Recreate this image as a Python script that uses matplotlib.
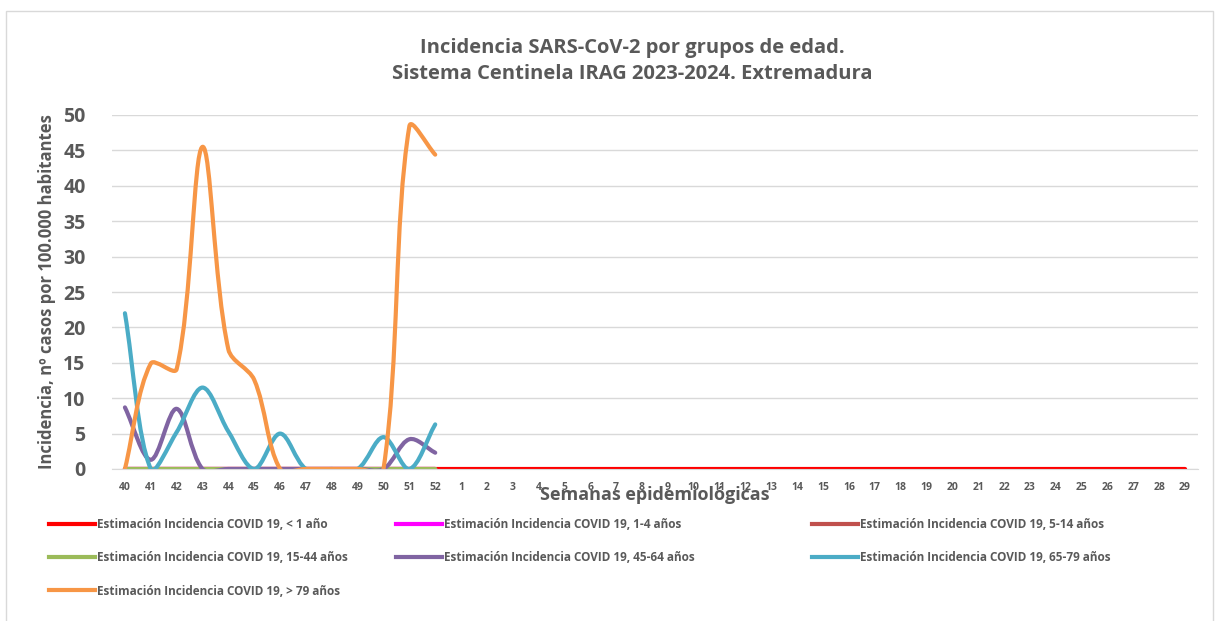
import numpy as np
import matplotlib.pyplot as plt
from matplotlib.path import Path
from matplotlib.patches import PathPatch, Rectangle
from matplotlib.lines import Line2D

plt.rcParams['font.family'] = ['Open Sans', 'DejaVu Sans']

# semanas epidemiologicas
semanas = [str(s) for s in list(range(40, 53)) + list(range(1, 30))]

# datos (incidencia por 100.000 hab.)
menor_1 = [0] * 42
de_1_4 = [0] * 13
de_5_14 = [0] * 13
de_15_44 = [0] * 13
de_45_64 = [8.7, 1.3, 8.5, 0, 0, 0, 0, 0, 0, 0, 0, 4.2, 2.3]
de_65_79 = [22.0, 0, 5.2, 11.5, 5.3, 0, 5.0, 0, 0, 0, 4.5, 0, 6.3]
mayor_79 = [0, 14.9, 14.1, 45.5, 16.9, 12.6, 0, 0, 0, 0, 0, 48.4, 44.4]

series = [
    ("Estimación Incidencia COVID 19, < 1 año", menor_1, "#FF0000"),
    ("Estimación Incidencia COVID 19, 1-4 años", de_1_4, "#FF00FF"),
    ("Estimación Incidencia COVID 19, 5-14 años", de_5_14, "#C0504D"),
    ("Estimación Incidencia COVID 19, 15-44 años", de_15_44, "#9BBB59"),
    ("Estimación Incidencia COVID 19, 45-64 años", de_45_64, "#8064A2"),
    ("Estimación Incidencia COVID 19, 65-79 años", de_65_79, "#4BACC6"),
    ("Estimación Incidencia COVID 19, > 79 años", mayor_79, "#F79646"),
]

GRIS = "#595959"


def smooth_path(ax, y):
    # linea suavizada tipo Excel: bezier con tangentes proporcionales a la cuerda
    pts = np.column_stack([np.arange(len(y)), np.array(y, dtype=float)])
    p = ax.transData.transform(pts)
    ext = np.vstack([p[0], p, p[-1]])
    verts = [p[0]]
    codes = [Path.MOVETO]
    for i in range(len(p) - 1):
        p0, p1, p2, p3 = ext[i], ext[i + 1], ext[i + 2], ext[i + 3]
        d01 = np.hypot(*(p1 - p0))
        d12 = np.hypot(*(p2 - p1))
        d23 = np.hypot(*(p3 - p2))
        f1 = d12 / (d01 + d12) / 3 if d01 + d12 > 0 else 0
        f2 = d12 / (d12 + d23) / 3 if d12 + d23 > 0 else 0
        c1 = p1 + (p2 - p0) * f1
        c2 = p2 - (p3 - p1) * f2
        verts += [c1, c2, p2]
        codes += [Path.CURVE4] * 3
    verts = ax.transData.inverted().transform(np.array(verts))
    return Path(verts, codes)


fig = plt.figure(figsize=(12.2, 6.21), dpi=100)
ax = fig.add_axes([112 / 1220, 1 - 469 / 621, (1198 - 112) / 1220, (469 - 115) / 621])

# borde del grafico
fig.patches.append(Rectangle((6 / 1220, -0.1), (1213 - 6) / 1220, 1.1 - 11 / 621,
                             transform=fig.transFigure, fill=False,
                             edgecolor="#D9D9D9", lw=1))

ax.set_xlim(-0.5, len(semanas) - 0.5)
ax.set_ylim(0, 50)

handles = []
for name, vals, col in series:
    ax.add_patch(PathPatch(smooth_path(ax, vals), fill=False, edgecolor=col, lw=3,
                           capstyle='round', joinstyle='round'))
    handles.append(Line2D([], [], color=col, lw=3, label=name))

ax.set_yticks(np.arange(0, 51, 5))
ax.set_xticks(range(len(semanas)))
ax.set_xticklabels(semanas)
ax.grid(axis='y', color="#D9D9D9", lw=1)
ax.set_axisbelow(True)
for s in ['top', 'right', 'left']:
    ax.spines[s].set_visible(False)
ax.spines['bottom'].set_color("#D9D9D9")
ax.tick_params(axis='y', length=0, pad=19, labelsize=14, labelcolor=GRIS)
ax.tick_params(axis='x', length=0, pad=9, labelsize=7.5, labelcolor=GRIS)
for lab in ax.get_xticklabels() + ax.get_yticklabels():
    lab.set_fontweight('bold')

ax.set_ylabel("Incidencia, nº casos por 100.000 habitantes", fontsize=12,
              fontweight='bold', color=GRIS)
ax.yaxis.set_label_coords(-56 / 1086, 0.5)
fig.text(655 / 1220, 1 - 495 / 621, "Semanas epidemiológicas", ha='center', va='center',
         fontsize=13, fontweight='bold', color=GRIS)

fig.text(632 / 1220, 1 - 61 / 621,
         "Incidencia SARS-CoV-2 por grupos de edad.\nSistema Centinela IRAG 2023-2024. Extremadura",
         ha='center', va='center', fontsize=14.5, fontweight='bold', color=GRIS,
         linespacing=1.45)

# leyenda en tres columnas
columnas = [([0, 3, 6], 49), ([1, 4], 396), ([2, 5], 812)]
for idx, x0 in columnas:
    leg = fig.legend([handles[i] for i in idx], [handles[i].get_label() for i in idx],
                     ncol=1, loc='upper left',
                     bbox_to_anchor=(x0 / 1220, 1 - 518 / 621),
                     frameon=False, fontsize=8.5, handlelength=3.9, handletextpad=0.15,
                     labelspacing=1.72, borderaxespad=0, borderpad=0)
    for t in leg.get_texts():
        t.set_color(GRIS)
        t.set_fontweight('bold')

fig.savefig("out.png", dpi=100)
